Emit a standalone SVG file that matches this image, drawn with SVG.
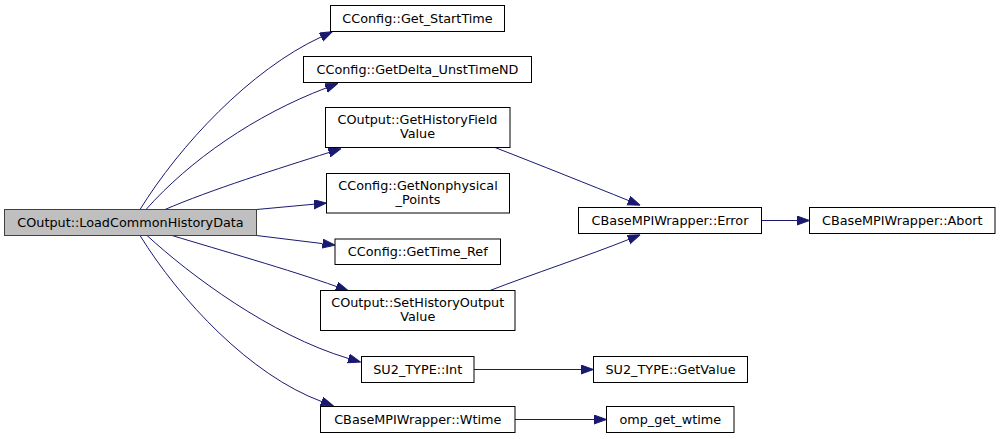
<svg xmlns="http://www.w3.org/2000/svg" width="1000" height="439" viewBox="0 0 1000 439">
<style>
.n rect{fill:#ffffff;stroke:#000000;stroke-width:1}
#main rect{fill:#bfbfbf;stroke:#404040}
text{font-family:"DejaVu Sans","Liberation Sans",sans-serif;font-size:12.8px;text-anchor:middle;fill:#000}
#edges path{fill:none;stroke:#191970;stroke-width:1;marker-end:url(#ah)}
</style>
<defs>
<marker id="ah" markerWidth="13" markerHeight="10" refX="0" refY="4.5" orient="auto" markerUnits="userSpaceOnUse">
<path d="M0,0 L12.5,4.5 L0,9 z" fill="#191970" stroke="#191970" stroke-width="1"/>
</marker>
</defs>
<rect width="1000" height="439" fill="#ffffff"/>
<g id="edges">
<path d="M140,209.5 C180,145 250,70 321,37"/>
<path d="M146,209.5 C190,160 255,115 326,88"/>
<path d="M165,209.5 C210,190 280,168 329,152.5"/>
<path d="M256.5,209.5 L314,204.2"/>
<path d="M256.5,235.5 L322.5,243.6"/>
<path d="M172,235.5 C220,250 290,270 336.5,286.5"/>
<path d="M147,235.5 C190,275 270,335 348.5,358.5"/>
<path d="M140,235.5 C180,300 250,375 321.5,401.5"/>
<path d="M495,147.5 C540,165 590,185 628.5,200.5"/>
<path d="M490,290.5 C530,275 590,255 628.5,239.5"/>
<path d="M761.5,220.5 L797,220.5"/>
<path d="M474,369.5 L581,369.5"/>
<path d="M515,419.5 L594,419.5"/>
</g>
<g id="main" class="n"><rect x="4.5" y="209.5" width="252" height="26"/><text x="130.5" y="227">COutput::LoadCommonHistoryData</text></g>
<g id="n_starttime" class="n"><rect x="330.5" y="5.5" width="174" height="26"/><text x="417.5" y="23">CConfig::Get_StartTime</text></g>
<g id="n_delta" class="n"><rect x="303.5" y="56.5" width="228" height="26"/><text x="417.5" y="74">CConfig::GetDelta_UnstTimeND</text></g>
<g id="n_gethist" class="n"><rect x="325.5" y="107.5" width="184.5" height="40"/><text x="417.5" y="123.5">COutput::GetHistoryField</text><text x="417.5" y="137.5">Value</text></g>
<g id="n_nonphys" class="n"><rect x="326.5" y="173.5" width="183" height="39.5"/><text x="418" y="189.5">CConfig::GetNonphysical</text><text x="418" y="203.5">_Points</text></g>
<g id="n_timeref" class="n"><rect x="335" y="239" width="165.5" height="25.5"/><text x="417.75" y="256.3">CConfig::GetTime_Ref</text></g>
<g id="n_sethist" class="n"><rect x="320.5" y="290.5" width="194.5" height="40"/><text x="417.75" y="306.5">COutput::SetHistoryOutput</text><text x="417.75" y="320.5">Value</text></g>
<g id="n_int" class="n"><rect x="361.5" y="356.5" width="112.5" height="26"/><text x="417.75" y="374">SU2_TYPE::Int</text></g>
<g id="n_wtime" class="n"><rect x="320.5" y="406.5" width="194.5" height="26"/><text x="417.75" y="424">CBaseMPIWrapper::Wtime</text></g>
<g id="n_error" class="n"><rect x="578.5" y="207.5" width="183" height="26"/><text x="670" y="225">CBaseMPIWrapper::Error</text></g>
<g id="n_abort" class="n"><rect x="809.5" y="207.5" width="185.5" height="26"/><text x="902.25" y="225">CBaseMPIWrapper::Abort</text></g>
<g id="n_getvalue" class="n"><rect x="593.5" y="356.5" width="154" height="26"/><text x="670.5" y="374">SU2_TYPE::GetValue</text></g>
<g id="n_omp" class="n"><rect x="606.5" y="406.5" width="127.5" height="26"/><text x="670.25" y="424">omp_get_wtime</text></g>
</svg>
